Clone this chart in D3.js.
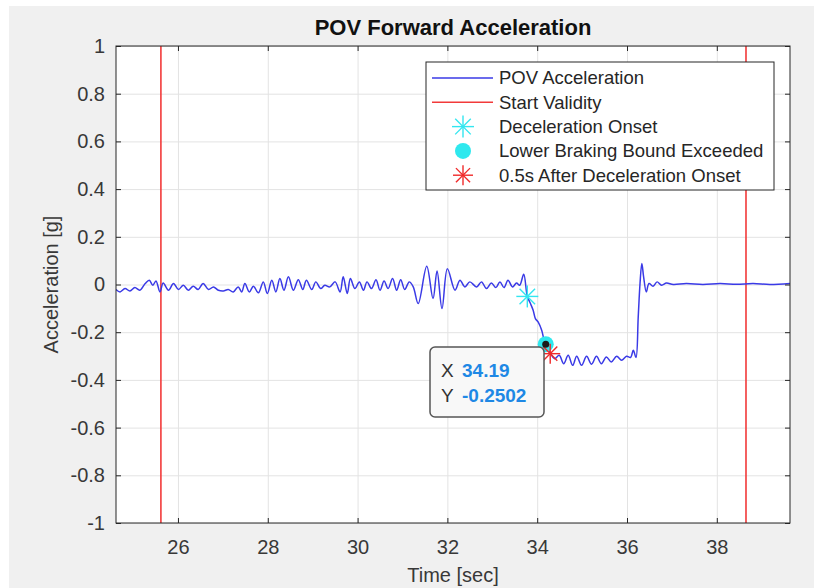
<!DOCTYPE html>
<html>
<head>
<meta charset="utf-8">
<script src="https://cdn.jsdelivr.net/npm/d3@7"></script>
<style>
  html, body { margin: 0; padding: 0; background: #ffffff; }
  svg { display: block; font-family: "Liberation Sans", Arial, sans-serif; }
</style>
</head>
<body>
<svg id="chart" width="814" height="588"></svg>
<script>
// POV acceleration trace (peaks and troughs)
const timeSec = [
  24.62, 24.71, 24.82, 24.93, 25.04, 25.15, 25.27, 25.36, 25.44, 25.51,
  25.60, 25.67, 25.79, 25.90, 26.01, 26.12, 26.23, 26.34, 26.45, 26.56,
  26.68, 26.79, 26.90, 27.01, 27.12, 27.23, 27.34, 27.42, 27.49, 27.59,
  27.68, 27.79, 27.90, 27.99, 28.09, 28.18, 28.27, 28.36, 28.46, 28.57,
  28.68, 28.78, 28.86, 28.98, 29.07, 29.18, 29.27, 29.38, 29.50, 29.61,
  29.68, 29.77, 29.84, 29.94, 30.04, 30.13, 30.21, 30.31, 30.41, 30.50,
  30.59, 30.68, 30.78, 30.87, 30.96, 31.05, 31.15, 31.24, 31.35, 31.54,
  31.68, 31.77, 31.88, 32.00, 32.17, 32.28, 32.39, 32.50, 32.65, 32.76,
  32.87, 32.98, 33.08, 33.17, 33.26, 33.35, 33.45, 33.54, 33.61, 33.70,
  33.78, 33.85, 33.91, 33.96, 34.02, 34.10, 34.16, 34.19, 34.30, 34.39,
  34.49, 34.59, 34.69, 34.79, 34.88, 34.99, 35.10, 35.21, 35.32, 35.43,
  35.54, 35.65, 35.77, 35.88, 35.99, 36.08, 36.14, 36.20, 36.25, 36.29,
  36.33, 36.37, 36.43, 36.49, 36.58, 36.67, 36.77, 36.88, 37.03, 37.32,
  37.69, 38.07, 38.44, 38.81, 39.18, 39.63
];
const accelG = [
  -0.021, -0.031, -0.017, -0.027, -0.013, -0.024, 0.004, 0.018, -0.003, 0.015,
  -0.031, 0.006, -0.024, 0.004, -0.021, -0.003, -0.024, -0.007, -0.021, 0.004,
  -0.021, -0.010, -0.024, -0.027, -0.021, -0.031, -0.010, -0.031, 0.004, -0.031,
  -0.007, -0.035, 0.011, -0.038, 0.018, -0.031, 0.025, -0.024, 0.032, -0.024,
  0.020, -0.021, 0.018, -0.021, 0.011, -0.017, -0.003, -0.010, 0.011, -0.031,
  0.032, -0.038, 0.025, -0.017, 0.011, -0.024, 0.011, -0.017, 0.020, -0.024,
  0.015, -0.017, 0.025, -0.024, 0.020, -0.021, 0.011, -0.010, -0.080, 0.076,
  -0.059, 0.057, -0.101, 0.066, -0.024, 0.018, -0.010, 0.011, -0.010, 0.011,
  -0.017, 0.006, -0.013, 0.011, -0.013, 0.018, -0.010, 0.006, -0.003, 0.043,
  -0.050, -0.080, -0.108, -0.143, -0.157, -0.192, -0.238, -0.2502, -0.290, -0.311,
  -0.297, -0.332, -0.297, -0.339, -0.301, -0.339, -0.301, -0.334, -0.301, -0.332,
  -0.304, -0.325, -0.301, -0.318, -0.301, -0.306, -0.276, -0.306, -0.136, 0.004,
  0.088, 0.032, -0.031, 0.004, -0.007, 0.011, -0.003, 0.006, 0.000, 0.004,
  0.000, 0.004, 0.001, 0.004, 0.000, 0.004
];

const validityTimes = [25.62, 38.65];
const onsetPoint = [33.78, -0.05];
const boundPoint = [34.19, -0.2502];
const afterPoint = [34.29, -0.29];

const xTicks = [26, 28, 30, 32, 34, 36, 38];
const yTicks = [-1, -0.8, -0.6, -0.4, -0.2, 0, 0.2, 0.4, 0.6, 0.8, 1];
const legendLabels = [
  'POV Acceleration',
  'Start Validity',
  'Deceleration Onset',
  'Lower Braking Bound Exceeded',
  '0.5s After Deceleration Onset'
];

const axisColor = '#262626';
const svg = d3.select('#chart');

// figure background
svg.append('rect').attr('x', 9).attr('y', 6).attr('width', 805).attr('height', 582)
  .attr('fill', '#f0f0f0');

const plotL = 116, plotR = 790, plotT = 46, plotB = 523;
const x = d3.scaleLinear().domain([24.62, 39.63]).range([plotL, plotR]);
const y = d3.scaleLinear().domain([-1, 1]).range([plotB, plotT]);

svg.append('rect').attr('x', plotL).attr('y', plotT)
  .attr('width', plotR - plotL).attr('height', plotB - plotT).attr('fill', '#fff');

// grid
const gridX = svg.append('g').attr('transform', `translate(0,${plotB})`)
  .call(d3.axisBottom(x).tickValues(xTicks).tickSize(-(plotB - plotT)).tickFormat(''));
const gridY = svg.append('g').attr('transform', `translate(${plotL},0)`)
  .call(d3.axisLeft(y).tickValues(yTicks).tickSize(-(plotR - plotL)).tickFormat(''));
[gridX, gridY].forEach(g => {
  g.select('.domain').remove();
  g.selectAll('line').attr('stroke', '#e3e3e3').attr('stroke-width', 1);
});

svg.append('defs').append('clipPath').attr('id', 'plotClip')
  .append('rect').attr('x', plotL).attr('y', plotT)
  .attr('width', plotR - plotL).attr('height', plotB - plotT);

// validity lines
svg.append('g').selectAll('line').data(validityTimes).enter().append('line')
  .attr('x1', d => x(d)).attr('x2', d => x(d))
  .attr('y1', plotT).attr('y2', plotB)
  .attr('stroke', '#f23a3a').attr('stroke-width', 1.6);

// acceleration trace
const line = d3.line()
  .x((d, i) => x(timeSec[i]))
  .y(d => y(d))
  .curve(d3.curveCatmullRom.alpha(0.5));
svg.append('path').datum(accelG)
  .attr('clip-path', 'url(#plotClip)')
  .attr('fill', 'none').attr('stroke', '#3a3ae6').attr('stroke-width', 1.5)
  .attr('d', line);

// star marker (matlab '*')
function star(g, cx, cy, r, color) {
  const s = g.append('g').attr('transform', `translate(${cx},${cy})`);
  [0, 45, 90, 135].forEach(a => {
    const rad = a * Math.PI / 180;
    s.append('line')
      .attr('x1', -r * Math.cos(rad)).attr('y1', -r * Math.sin(rad))
      .attr('x2', r * Math.cos(rad)).attr('y2', r * Math.sin(rad))
      .attr('stroke', color).attr('stroke-width', 1.4);
  });
}

const marks = svg.append('g');
star(marks, x(onsetPoint[0]), y(onsetPoint[1]), 11, '#33e6f0');
marks.append('circle').attr('cx', x(boundPoint[0])).attr('cy', y(boundPoint[1]))
  .attr('r', 8).attr('fill', '#2fe8ee');
star(marks, x(afterPoint[0]), y(afterPoint[1]), 10, '#f02a2a');
marks.append('circle').attr('cx', x(boundPoint[0])).attr('cy', y(boundPoint[1]))
  .attr('r', 3.5).attr('fill', '#1a1a1a');

// axes (ticks inward on all four sides)
function styleAxis(g) {
  g.select('.domain').remove();
  g.selectAll('line').attr('stroke', axisColor);
  g.selectAll('text').attr('fill', '#383838').style('font-size', '20px')
    .style('font-family', '"Liberation Sans", Arial, sans-serif');
}
const fmt = d => String(+d.toFixed(1));
svg.append('g').attr('transform', `translate(0,${plotB})`)
  .call(d3.axisBottom(x).tickValues(xTicks).tickSizeInner(-5).tickSizeOuter(0).tickPadding(17).tickFormat(fmt))
  .call(styleAxis);
svg.append('g').attr('transform', `translate(0,${plotT})`)
  .call(d3.axisTop(x).tickValues(xTicks).tickSizeInner(-5).tickSizeOuter(0).tickFormat(''))
  .call(styleAxis);
svg.append('g').attr('transform', `translate(${plotL},0)`)
  .call(d3.axisLeft(y).tickValues(yTicks).tickSizeInner(-5).tickSizeOuter(0).tickPadding(11).tickFormat(fmt))
  .call(styleAxis);
svg.append('g').attr('transform', `translate(${plotR},0)`)
  .call(d3.axisRight(y).tickValues(yTicks).tickSizeInner(-5).tickSizeOuter(0).tickFormat(''))
  .call(styleAxis);

svg.append('rect').attr('x', plotL).attr('y', plotT)
  .attr('width', plotR - plotL).attr('height', plotB - plotT)
  .attr('fill', 'none').attr('stroke', axisColor).attr('stroke-width', 1);

// labels
svg.append('text').attr('x', (plotL + plotR) / 2).attr('y', 35)
  .attr('text-anchor', 'middle').attr('font-weight', 'bold')
  .style('font-size', '22px').attr('fill', '#111').text('POV Forward Acceleration');
svg.append('text').attr('x', (plotL + plotR) / 2).attr('y', 582)
  .attr('text-anchor', 'middle').style('font-size', '20px').attr('fill', '#383838')
  .text('Time [sec]');
svg.append('text').attr('transform', `translate(58,${(plotT + plotB) / 2}) rotate(-90)`)
  .attr('text-anchor', 'middle').style('font-size', '20px').attr('fill', '#383838')
  .text('Acceleration [g]');

// legend
const legend = svg.append('g');
legend.append('rect').attr('x', 426).attr('y', 62).attr('width', 348).attr('height', 128)
  .attr('fill', '#fff').attr('stroke', axisColor).attr('stroke-width', 1);
const rowY = i => 78 + i * 24.3;
legend.selectAll('text').data(legendLabels).enter().append('text')
  .attr('x', 499).attr('y', (d, i) => rowY(i)).attr('dy', '0.35em')
  .style('font-size', '18.5px').attr('fill', '#262626').text(d => d);
legend.append('line').attr('x1', 432).attr('x2', 493).attr('y1', rowY(0)).attr('y2', rowY(0))
  .attr('stroke', '#3a3ae6').attr('stroke-width', 1.4);
legend.append('line').attr('x1', 432).attr('x2', 493).attr('y1', rowY(1)).attr('y2', rowY(1))
  .attr('stroke', '#f23a3a').attr('stroke-width', 1.4);
star(legend, 463, rowY(2), 11, '#33e6f0');
legend.append('circle').attr('cx', 463).attr('cy', rowY(3)).attr('r', 8).attr('fill', '#2fe8ee');
star(legend, 463, rowY(4), 10, '#f02a2a');

// data tip
const tip = svg.append('g');
tip.append('rect').attr('x', 430).attr('y', 347).attr('width', 114).attr('height', 70)
  .attr('rx', 5).attr('fill', '#f8f8f8').attr('stroke', '#555').attr('stroke-width', 1.5);
tip.append('text').attr('x', 441).attr('y', 377).style('font-size', '19px').attr('fill', '#333').text('X');
tip.append('text').attr('x', 441).attr('y', 402).style('font-size', '19px').attr('fill', '#333').text('Y');
tip.append('text').attr('x', 462).attr('y', 377).style('font-size', '19px').attr('font-weight', 'bold')
  .attr('fill', '#1e88e5').text(boundPoint[0].toFixed(2));
tip.append('text').attr('x', 462).attr('y', 402).style('font-size', '19px').attr('font-weight', 'bold')
  .attr('fill', '#1e88e5').text(boundPoint[1].toFixed(4));
</script>
</body>
</html>
